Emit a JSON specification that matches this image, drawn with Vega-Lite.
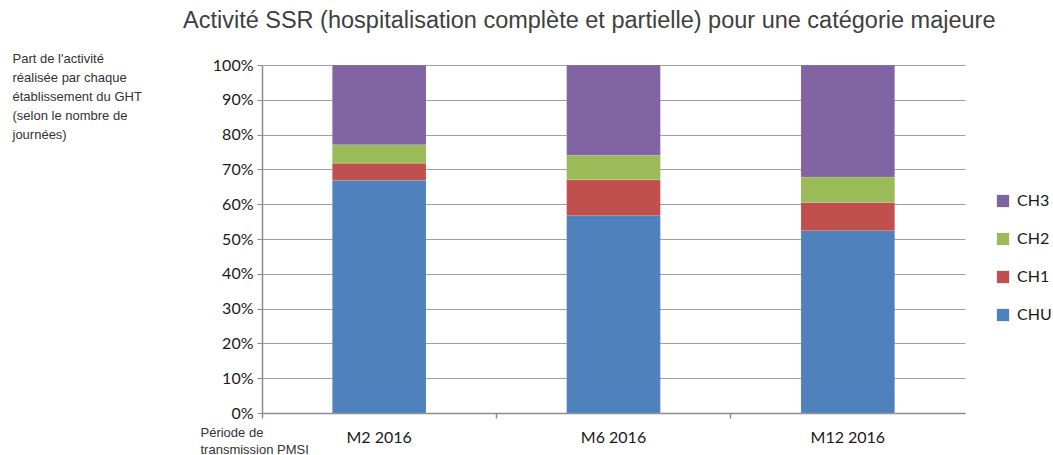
{
  "$schema": "https://vega.github.io/schema/vega-lite/v6.json",
  "width": 703,
  "height": 348,
  "autosize": {"type": "none"},
  "padding": {"left": 262, "top": 65, "right": 88, "bottom": 42},
  "background": "white",
  "title": {
    "text": "Activité SSR (hospitalisation complète et partielle)  pour une catégorie majeure",
    "anchor": "start",
    "frame": "group",
    "dx": -79,
    "offset": 20,
    "font": "Liberation Sans",
    "fontSize": 23.5,
    "fontWeight": "normal",
    "color": "#404040"
  },
  "data": {
    "values": [
      {"periode": "M2 2016", "etab": "CHU", "rang": 1, "part": 0.669},
      {"periode": "M2 2016", "etab": "CH1", "rang": 2, "part": 0.049},
      {"periode": "M2 2016", "etab": "CH2", "rang": 3, "part": 0.053},
      {"periode": "M2 2016", "etab": "CH3", "rang": 4, "part": 0.229},
      {"periode": "M6 2016", "etab": "CHU", "rang": 1, "part": 0.567},
      {"periode": "M6 2016", "etab": "CH1", "rang": 2, "part": 0.103},
      {"periode": "M6 2016", "etab": "CH2", "rang": 3, "part": 0.071},
      {"periode": "M6 2016", "etab": "CH3", "rang": 4, "part": 0.259},
      {"periode": "M12 2016", "etab": "CHU", "rang": 1, "part": 0.524},
      {"periode": "M12 2016", "etab": "CH1", "rang": 2, "part": 0.081},
      {"periode": "M12 2016", "etab": "CH2", "rang": 3, "part": 0.073},
      {"periode": "M12 2016", "etab": "CH3", "rang": 4, "part": 0.322}
    ]
  },
  "mark": {"type": "bar", "stroke": "white", "strokeOpacity": 0.25, "strokeWidth": 0.5},
  "encoding": {
    "x": {
      "field": "periode",
      "type": "nominal",
      "sort": ["M2 2016", "M6 2016", "M12 2016"],
      "scale": {"paddingInner": 0.6, "paddingOuter": 0.3},
      "axis": {
        "title": ["Période de", "transmission PMSI"],
        "titleX": -62,
        "titleY": 13,
        "titleAlign": "left",
        "titleBaseline": "top",
        "titleAnchor": null,
        "titleFont": "Liberation Sans",
        "titleFontSize": 13,
        "titleFontWeight": "normal",
        "titleColor": "#333333",
        "titleLineHeight": 17,
        "labelAngle": 0,
        "labelFont": "Lato",
        "labelFontSize": 16,
        "labelColor": "#1a1a1a",
        "labelPadding": 11,
        "bandPosition": -0.75,
        "ticks": true,
        "tickSize": 5,
        "tickColor": "#8c8c8c",
        "tickWidth": 1.5,
        "domainColor": "#8c8c8c",
        "domainWidth": 1.5
      }
    },
    "y": {
      "field": "part",
      "type": "quantitative",
      "stack": "zero",
      "scale": {"domain": [0, 1]},
      "axis": {
        "format": ".0%",
        "values": [0, 0.1, 0.2, 0.3, 0.4, 0.5, 0.6, 0.7, 0.8, 0.9, 1],
        "labelOverlap": false,
        "title": ["Part de l'activité", "réalisée par chaque", "établissement du GHT", "(selon le nombre de", "journées)"],
        "titleAngle": 0,
        "titleX": -250,
        "titleY": -13,
        "titleAlign": "left",
        "titleBaseline": "top",
        "titleAnchor": null,
        "titleFont": "Liberation Sans",
        "titleFontSize": 13,
        "titleFontWeight": "normal",
        "titleColor": "#333333",
        "titleLineHeight": 19,
        "labelFont": "Lato",
        "labelFontSize": 16,
        "labelColor": "#1a1a1a",
        "labelPadding": 4,
        "tickSize": 5,
        "tickColor": "#8c8c8c",
        "domainColor": "#8c8c8c",
        "domainWidth": 1.5,
        "gridColor": "#a0a0a0",
        "gridWidth": 1.2
      }
    },
    "color": {
      "field": "etab",
      "type": "nominal",
      "scale": {
        "domain": ["CH3", "CH2", "CH1", "CHU"],
        "range": ["#8064A2", "#9BBB59", "#C0504D", "#4F81BD"]
      },
      "legend": {
        "title": null,
        "orient": "none",
        "legendX": 733,
        "legendY": 128,
        "symbolType": "square",
        "symbolSize": 150,
        "symbolStrokeWidth": 0,
        "rowPadding": 22,
        "labelFont": "Lato",
        "labelFontSize": 16,
        "labelColor": "#1a1a1a",
        "labelOffset": 6
      }
    },
    "order": {"field": "rang", "type": "quantitative"}
  },
  "config": {
    "view": {"stroke": null}
  }
}
